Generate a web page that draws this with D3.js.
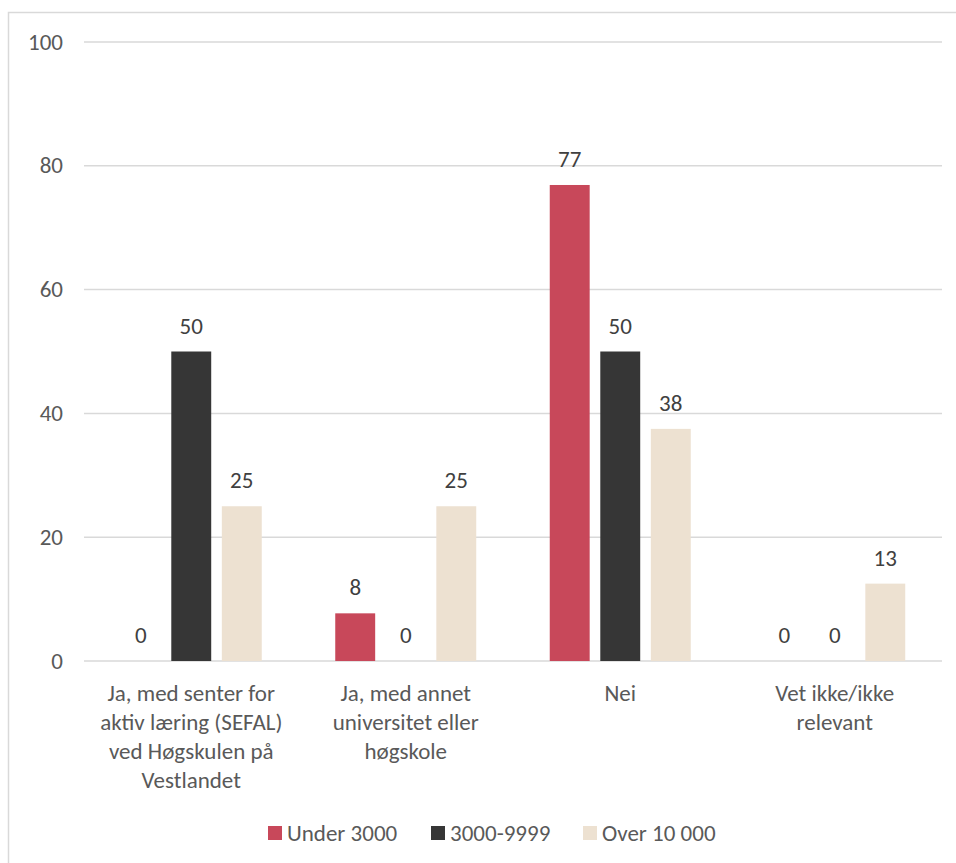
<!DOCTYPE html>
<html lang="no">
<head>
    <meta charset="UTF-8">
    <script src="https://d3js.org/d3.v7.min.js"></script>
    <title>Samarbeid</title>
    <style>
        body { margin: 0; background: #fff; }
        svg text { font-family: Carlito, "Open Sans", sans-serif; }
    </style>
</head>
<body>
<script>
    // data
    const categories = [
        "Ja, med senter for\naktiv læring (SEFAL)\nved Høgskulen på\nVestlandet",
        "Ja, med annet\nuniversitet eller\nhøgskole",
        "Nei",
        "Vet ikke/ikke\nrelevant"
    ];
    const seriesNames = ["Under 3000", "3000-9999", "Over 10 000"];
    const under3000 = [0, 7.7, 76.9, 0];
    const mid3000 = [50, 0, 50, 0];
    const over10000 = [25, 25, 37.5, 12.5];
    const yTicks = [0, 20, 40, 60, 80, 100];
    const colors = ["#c8485a", "#363636", "#ede1d1"];

    const width = 956, height = 863;
    const margin = {left: 84, right: 14, top: 42, bottom: 202};
    const fontSize = "23px";

    const svg = d3.select("body").append("svg")
        .attr("width", width)
        .attr("height", height);

    // outer frame
    svg.append("rect")
        .attr("x", 8.5).attr("y", 12.5)
        .attr("width", 960).attr("height", 870)
        .attr("fill", "none")
        .attr("stroke", "#d9d9d9")
        .attr("stroke-width", 1.5);

    const x0 = d3.scaleBand()
        .domain(d3.range(categories.length))
        .range([margin.left, width - margin.right]);
    const x1 = d3.scaleBand()
        .domain(d3.range(seriesNames.length))
        .range([0, 141])
        .paddingInner(0.21);
    const y = d3.scaleLinear()
        .domain([0, 100])
        .range([height - margin.bottom, margin.top]);

    // gridlines
    svg.append("g").selectAll("line")
        .data(yTicks)
        .join("line")
        .attr("x1", margin.left).attr("x2", width - margin.right)
        .attr("y1", d => y(d)).attr("y2", d => y(d))
        .attr("stroke", "#d9d9d9")
        .attr("stroke-width", 1.5);

    // y tick labels
    svg.append("g").selectAll("text")
        .data(yTicks)
        .join("text")
        .attr("x", 63)
        .attr("y", d => y(d) + 7.5)
        .attr("text-anchor", "end")
        .attr("font-size", fontSize)
        .attr("fill", "#595959")
        .text(d => d);

    const series = [under3000, mid3000, over10000];
    const rows = [];
    series.forEach((vals, s) => vals.forEach((v, c) => rows.push({s, c, v})));

    const groupOffset = (x0.bandwidth() - 141) / 2;

    svg.append("g").selectAll("rect")
        .data(rows)
        .join("rect")
        .attr("x", d => x0(d.c) + groupOffset + x1(d.s))
        .attr("y", d => y(d.v))
        .attr("width", x1.bandwidth())
        .attr("height", d => y(0) - y(d.v))
        .attr("fill", d => colors[d.s]);

    svg.append("g").selectAll("text")
        .data(rows)
        .join("text")
        .attr("x", d => x0(d.c) + groupOffset + x1(d.s) + x1.bandwidth() / 2)
        .attr("y", d => y(d.v) - 18)
        .attr("text-anchor", "middle")
        .attr("font-size", fontSize)
        .attr("fill", "#404040")
        .text(d => Math.round(d.v));

    // category labels
    const catG = svg.append("g").selectAll("text")
        .data(categories)
        .join("text")
        .attr("text-anchor", "middle")
        .attr("font-size", fontSize)
        .attr("fill", "#595959");
    catG.selectAll("tspan")
        .data((d, i) => d.split("\n").map(line => ({line, i})))
        .join("tspan")
        .attr("x", d => x0(d.i) + x0.bandwidth() / 2)
        .attr("y", (d, j) => y(0) + 40 + j * 29)
        .text(d => d.line);

    // legend
    const legendX = [268, 431, 583];
    const legend = svg.append("g").selectAll("g")
        .data(seriesNames)
        .join("g")
        .attr("transform", (d, i) => `translate(${legendX[i]},833)`);
    legend.append("rect")
        .attr("x", 0).attr("y", -7)
        .attr("width", 14).attr("height", 14)
        .attr("fill", (d, i) => colors[i]);
    legend.append("text")
        .attr("x", 19).attr("y", 8)
        .attr("font-size", fontSize)
        .attr("fill", "#595959")
        .text(d => d);
</script>
</body>
</html>
